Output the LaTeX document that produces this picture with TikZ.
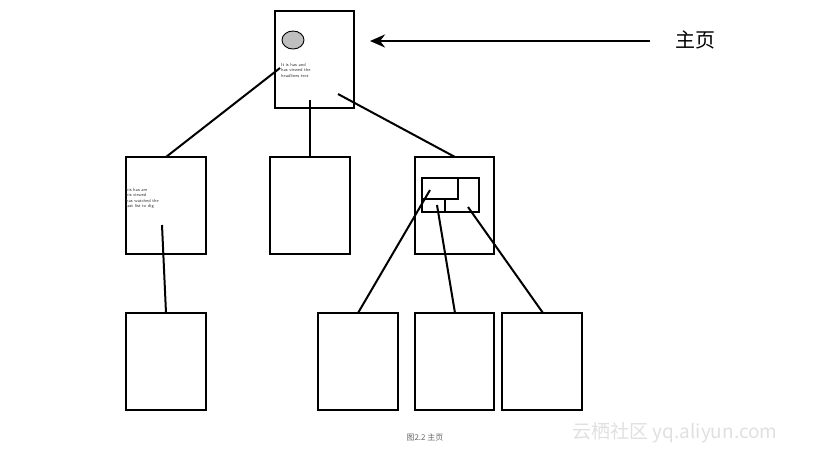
\documentclass[tikz,border=0pt]{standalone}
\usepackage{fontspec}
\newfontfamily\cjk{Noto Sans CJK SC}
\usetikzlibrary{arrows.meta}
\begin{document}
\begin{tikzpicture}[x=1pt,y=-1pt,
  page/.style={draw,line width=1.1pt},
  link/.style={line width=2pt},
  tiny/.style={font=\fontsize{4.5}{5.5}\selectfont\sffamily,align=left,inner sep=0,text=black!80}]
\useasboundingbox (0,0) rectangle (821,456);
\draw[page] (275,11) rectangle (354,108);
\draw[page] (126,157) rectangle (206,254);
\draw[page] (270,157) rectangle (350,254);
\draw[page] (415,157) rectangle (494,254);
\draw[page] (126,313) rectangle (206,410);
\draw[page] (318,313) rectangle (398,410);
\draw[page] (415,313) rectangle (494,410);
\draw[page] (502,313) rectangle (582,410);
\draw[fill=black!25,line width=0.9pt] (293,40) ellipse (11 and 9);
\node[tiny,anchor=north west] (t1) at (281,63) {It is has and\\ has viewed the\\ headlines  text};
\node[tiny,anchor=north west] (t2) at (126,188) {his has are\\ his viewed\\ has watched the\\ last list to dig};
\draw[line width=2pt] (422,178) rectangle (479,212);
\draw[line width=2pt] (422,199) -- (458,199) -- (458,178);
\draw[line width=2pt] (445,199) -- (445,212);
\draw[link] (280,68) -- (166,157);
\draw[link] (310,100) -- (310,157);
\draw[link] (338,94) -- (455,157);
\draw[link] (162,225) -- (166,313);
\draw[link] (430,190) -- (358,313);
\draw[link] (437,205) -- (455,313);
\draw[link] (468,207) -- (543,313);
\coordinate (a1) at (650,41); \coordinate (a2) at (370,41);
\draw[line width=2.6pt,-{Stealth[length=15pt,width=13pt]}] (a1) -- (a2);
\node[font=\cjk\fontsize{20}{20}\selectfont] (lbl) at (695,40) {主页};
\node[font=\cjk\fontsize{8}{8}\selectfont,text=black!60] (cap) at (425,437) {图2.2 主页};
\node[font=\cjk\fontsize{19}{19}\selectfont,text=black!12] (wm) at (675,433) {云栖社区 yq.aliyun.com};
\end{tikzpicture}
\end{document}
